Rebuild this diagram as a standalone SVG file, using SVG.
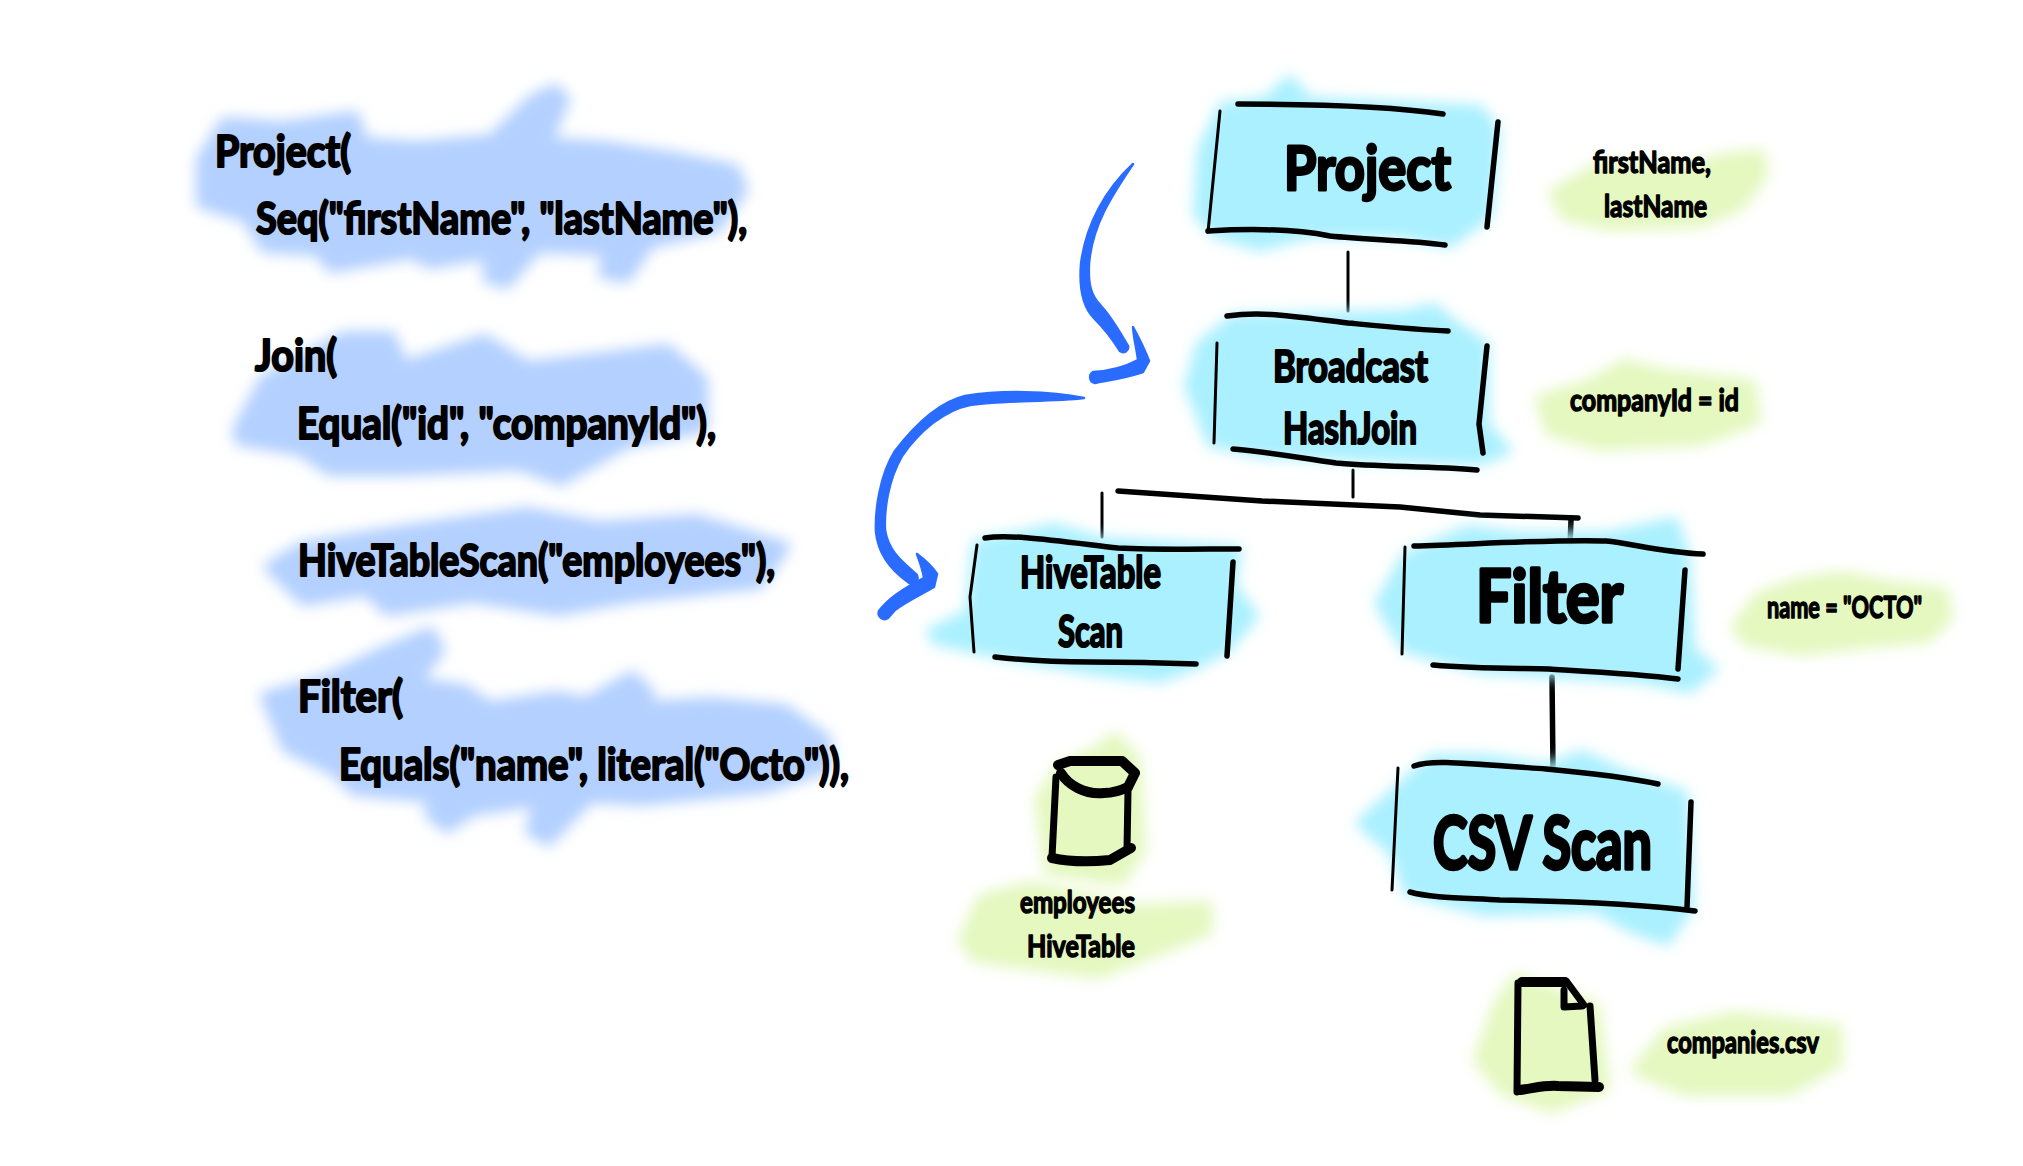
<svg xmlns="http://www.w3.org/2000/svg" width="2023" height="1166" viewBox="0 0 2023 1166">
<style>
.t{font-family:"Lato","Liberation Sans",sans-serif;font-weight:700;fill:#000;stroke:#000;stroke-linejoin:round}
.c{font-size:44px;stroke-width:2.2px}
.s{font-size:31px;stroke-width:1.5px}
.m{font-size:44px;stroke-width:2.2px}
.l{font-size:62px;stroke-width:3px}
.x{font-size:72px;stroke-width:3.6px}
.ink{fill:none;stroke:#000;stroke-linecap:round;stroke-linejoin:round;stroke-width:5.5}
.thin{stroke-width:3}
.mid{stroke-width:7}
.thick{stroke-width:10}
.hb,.nb,.gb{filter:url(#b);stroke-width:12;stroke-linejoin:round}
.hb{fill:#b3d0ff;stroke:#b3d0ff}
.nb{fill:#aaf0ff;stroke:#aaf0ff;stroke-width:6}
.gb{fill:#e4f8c0;stroke:#e4f8c0}
.ar{fill:#2a6cff;stroke:#2a6cff;stroke-width:2.5;stroke-linejoin:round}
</style>
<defs><filter id="b" x="-20%" y="-20%" width="140%" height="140%"><feGaussianBlur stdDeviation="7"/></filter></defs>
<rect width="2023" height="1166" fill="#fff"/>
<g id="code">
<path class="hb" d="M202 160L225 123 283 127 354 117 363 143 417 147 492 140 533 100 555 90 564 100 546 143 604 147 671 157 734 170 742 190 716 227 649 243 626 277 604 273 609 250 537 247 506 283 488 277 492 253 430 263 412 253 332 267 318 250 265 247 247 217 202 203Z"/>
<path class="hb" d="M238 430L265 380 345 337 390 337 403 367 484 340 528 367 667 350 702 380 702 427 626 443 560 480 520 465 400 470 330 470 300 450 240 440Z"/>
<path class="hb" d="M270 567L304 547 388 533 527 513 599 527 696 520 784 547 759 583 632 597 557 610 473 597 388 610 367 590 304 600Z"/>
<path class="hb" d="M266 697L325 680 388 650 430 633 439 650 414 683 464 690 489 707 557 697 586 703 632 677 649 693 641 707 712 703 784 710 826 740 826 767 767 787 641 800 590 797 548 840 531 830 540 800 473 810 447 827 430 813 435 797 355 790 334 770 287 747Z"/>
<text class="t c" x="215" y="167" textLength="136" lengthAdjust="spacingAndGlyphs">Project(</text>
<text class="t c" x="256" y="234" textLength="491" lengthAdjust="spacingAndGlyphs">Seq("firstName", "lastName"),</text>
<text class="t c" x="255" y="371" textLength="82" lengthAdjust="spacingAndGlyphs">Join(</text>
<text class="t c" x="297" y="439" textLength="419" lengthAdjust="spacingAndGlyphs">Equal("id", "companyId"),</text>
<text class="t c" x="298" y="576" textLength="477" lengthAdjust="spacingAndGlyphs">HiveTableScan("employees"),</text>
<text class="t c" x="298" y="712" textLength="105" lengthAdjust="spacingAndGlyphs">Filter(</text>
<text class="t c" x="339" y="780" textLength="510" lengthAdjust="spacingAndGlyphs">Equals("name", literal("Octo")),</text>
</g>
<g id="connectors">
<path class="ink thin" d="M1348 252L1348 311"/>
<path class="ink thin" d="M1353 470L1353 497"/>
<path class="ink" d="M1118 491L1262 501 1400 507 1480 515 1578 518"/>
<path class="ink thin" d="M1102 493L1102 537"/>
<path class="ink" d="M1571 520L1570 545"/>
<path class="ink" d="M1552 677L1553 768"/>
<path class="ar" d="M1133 164C1105 190 1086 225 1081 264C1079 290 1084 308 1094 318C1104 328 1112 338 1120 351A5 5 0 0 0 1128 346C1120 332 1112 318 1101 306C1091 296 1088 285 1089 264C1092 225 1112 195 1133 164Z"/>
<path class="ar" d="M1133 327C1140 340 1145 350 1149 361L1143 372C1125 378 1110 380 1095 383A6 6 0 0 1 1093 372C1110 371 1125 367 1138 360C1137 350 1134 340 1133 327Z"/>
<path class="ar" d="M1084 398C1050 391 1000 390 965 396C940 402 915 425 895 451C880 475 875 510 876 532C878 552 888 568 908 582A5 5 0 0 0 916 574C900 560 888 550 885 530C884 510 888 480 902 456C920 430 945 410 970 405C1000 400 1050 402 1084 398Z"/>
<path class="ar" d="M917 554C925 560 932 566 937 574L934 587C920 595 905 602 895 610L888 618A6 6 0 0 1 879 611C887 600 900 590 924 578C923 570 920 562 917 554Z"/>
</g>
<g id="node-project">
<path class="nb" d="M1200 150L1222 105 1265 100 1290 78 1310 100 1420 105 1480 108 1497 130 1490 215 1450 245 1400 235 1310 235 1260 248 1215 235 1196 215Z"/>
<path class="ink" d="M1238 104C1300 104 1390 106 1443 114"/>
<path class="ink thin" d="M1220 111L1208 232"/>
<path class="ink" d="M1498 122L1487 227"/>
<path class="ink" d="M1208 231C1260 228 1300 230 1330 236C1370 240 1410 240 1445 245"/>
<text class="t l" x="1284" y="190" textLength="167" lengthAdjust="spacingAndGlyphs">Project</text>
</g>
<g id="node-broadcast">
<path class="nb" d="M1187 386L1199 344 1233 317 1405 313 1434 306 1457 325 1486 344 1486 424 1509 451 1480 463 1262 455 1210 444Z"/>
<path class="ink" d="M1227 316C1262 311 1290 316 1348 323C1390 327 1420 330 1448 331"/>
<path class="ink thin" d="M1217 343L1214 443"/>
<path class="ink" d="M1487 346L1479 424 1483 453"/>
<path class="ink" d="M1233 449C1270 452 1300 458 1336 463C1380 467 1430 466 1477 470"/>
<text class="t m" x="1273" y="382" textLength="155" lengthAdjust="spacingAndGlyphs">Broadcast</text>
<text class="t m" x="1283" y="444" textLength="134" lengthAdjust="spacingAndGlyphs">HashJoin</text>
</g>
<g id="node-hivetablescan">
<path class="nb" d="M929 631L969 612 975 543 1055 526 1101 540 1239 549 1233 585 1256 616 1227 650 1199 665 1160 680 1092 672 992 654 935 642Z"/>
<path class="ink" d="M985 538C1010 534 1050 540 1118 548C1160 550 1200 549 1239 549"/>
<path class="ink thin" d="M977 545L970 597 974 652"/>
<path class="ink" d="M1233 562L1227 656"/>
<path class="ink" d="M995 657C1030 661 1060 662 1090 662C1130 662 1170 663 1196 664"/>
<text class="t m" x="1020" y="588" textLength="141" lengthAdjust="spacingAndGlyphs">HiveTable</text>
<text class="t m" x="1058" y="647" textLength="65" lengthAdjust="spacingAndGlyphs">Scan</text>
</g>
<g id="node-filter">
<path class="nb" d="M1377 604L1405 555 1468 528 1520 535 1606 535 1675 520 1687 555 1692 650 1715 669 1690 690 1640 680 1480 670 1405 650Z"/>
<path class="ink" d="M1414 546C1480 544 1560 539 1606 541C1630 543 1660 552 1703 554"/>
<path class="ink thin" d="M1405 547L1402 654"/>
<path class="ink" d="M1685 570L1678 669"/>
<path class="ink" d="M1433 665C1480 669 1520 668 1549 669C1600 672 1640 674 1678 679"/>
<text class="t x" x="1476" y="622" textLength="147" lengthAdjust="spacingAndGlyphs">Filter</text>
</g>
<g id="node-csvscan">
<path class="nb" d="M1358 823L1398 787 1431 757 1485 757 1546 767 1582 753 1625 773 1685 793 1691 907 1667 943 1631 930 1595 910 1485 913 1407 893 1392 853Z"/>
<path class="ink" d="M1414 766C1430 760 1450 762 1546 769C1590 773 1630 778 1658 784"/>
<path class="ink thin" d="M1398 768L1392 890"/>
<path class="ink" d="M1691 802L1687 907"/>
<path class="ink" d="M1410 892C1430 898 1467 898 1500 900C1570 901 1640 904 1695 911"/>
<text class="t x" x="1433" y="869" textLength="219" lengthAdjust="spacingAndGlyphs">CSV Scan</text>
</g>
<g id="label-firstname">
<path class="gb" d="M1555 193L1600 167 1690 170 1720 160 1760 155 1762 175 1740 205 1700 222 1610 225 1565 215Z"/>
<text class="t s" x="1593" y="173" textLength="118" lengthAdjust="spacingAndGlyphs">firstName,</text>
<text class="t s" x="1604" y="217" textLength="103" lengthAdjust="spacingAndGlyphs">lastName</text>
</g>
<g id="label-companyid">
<path class="gb" d="M1541 400L1590 385 1625 365 1665 375 1750 385 1755 420 1700 440 1600 445 1550 430Z"/>
<text class="t s" x="1570" y="411" textLength="169" lengthAdjust="spacingAndGlyphs">companyId = id</text>
</g>
<g id="label-octo">
<path class="gb" d="M1737 627L1760 597 1800 583 1840 577 1893 587 1943 593 1947 617 1927 637 1860 643 1800 650 1747 640Z"/>
<text class="t s" x="1767" y="618" textLength="155" lengthAdjust="spacingAndGlyphs">name = "OCTO"</text>
</g>
<g id="node-employees-table">
<path class="gb" d="M1040 800L1060 770 1100 750 1115 738 1135 760 1140 850 1120 880 1050 870Z"/>
<path class="ink thick" d="M1058 765L1070 761 1122 761 1135 773 1128 787"/>
<path class="ink thick" d="M1061 773C1068 785 1085 795 1104 793C1115 793 1122 790 1128 787"/>
<path class="ink mid" d="M1056 777L1052 857"/>
<path class="ink mid" d="M1128 790L1127 850"/>
<path class="ink thick" d="M1052 858C1070 862 1090 862 1110 860L1131 848"/>
</g>
<g id="label-employees">
<path class="gb" d="M964 940L982 900 1031 887 1140 910 1207 907 1207 930 1140 957 1098 973 976 957Z"/>
<text class="t s" x="1020" y="913" textLength="115" lengthAdjust="spacingAndGlyphs">employees</text>
<text class="t s" x="1027" y="957" textLength="108" lengthAdjust="spacingAndGlyphs">HiveTable</text>
</g>
<g id="node-companies-file">
<path class="gb" d="M1479 1060L1498 1007 1516 980 1594 1007 1604 1087 1552 1107 1504 1090Z"/>
<path class="ink thick" d="M1522 982L1565 982"/>
<path class="ink mid" d="M1567 982L1584 1005"/>
<path class="ink mid" d="M1564 990L1564 1007 1582 1006"/>
<path class="ink mid" d="M1518 983L1517 1092"/>
<path class="ink mid" d="M1590 1006L1595 1080"/>
<path class="ink thick" d="M1520 1090C1535 1088 1545 1085 1558 1086L1599 1087"/>
</g>
<g id="label-companies">
<path class="gb" d="M1637 1070L1667 1033 1734 1017 1837 1030 1837 1063 1788 1090 1685 1090Z"/>
<text class="t s" x="1667" y="1053" textLength="152" lengthAdjust="spacingAndGlyphs">companies.csv</text>
</g>
</svg>
